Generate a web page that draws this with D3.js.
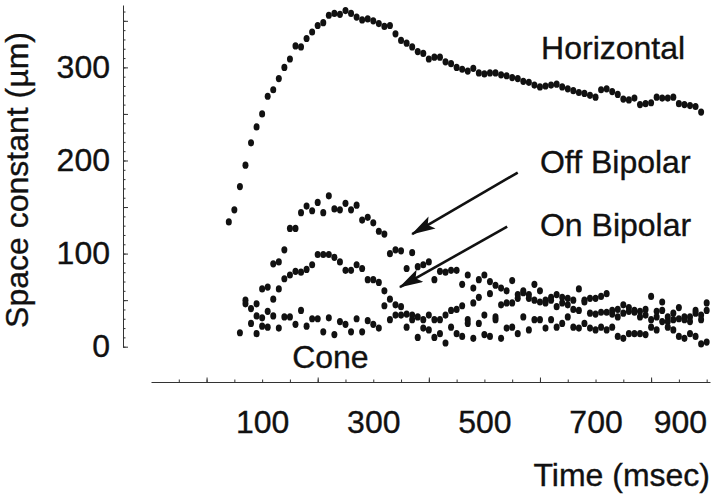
<!DOCTYPE html>
<html>
<head>
<meta charset="utf-8">
<style>
    body { margin: 0; background: #fff; }
    text {
        font-family: 'Liberation Sans', Arial, Helvetica, sans-serif;
        fill: #111;
        stroke: #111;
        stroke-width: 0.35px;
    }
    .axis path, .axis line { stroke: #333; stroke-width: 1; }
    .dot { fill: #111; }
    .arrow { stroke: #111; stroke-width: 2.6; }
</style>
</head>
<body>
<svg id="chart" width="720" height="499"></svg>

<script src="https://cdn.jsdelivr.net/npm/d3@7"></script>
<script>
    // one reading every 10 ms, each series starts at its own time
    const step = 10;

    const horizontalStart = 40;
    const horizontal = [134, 147, 172, 195, 219, 236, 250, 269, 276, 288,
        300, 309, 323, 322, 331, 338, 345, 348, 356, 358,
        357, 361, 358, 354, 351, 352, 350, 347, 344, 345,
        336, 329, 326, 322, 317, 315, 309, 311, 311, 306,
        304, 300, 298, 296, 299, 294, 293, 294, 294, 292,
        291, 289, 288, 285, 284, 281, 279, 280, 281, 282,
        279, 277, 275, 273, 272, 270, 268, 276, 277, 274,
        271, 266, 265, 267, 260, 261, 262, 268, 267, 267,
        268, 261, 260, 259, 258, 252];

    const offStart = 70;
    const offBipolar = [50, 41, 46, 62, 64, 89, 91, 104, 127, 127,
        144, 151, 146, 155, 144, 162, 148, 147, 154, 147,
        152, 136, 139, 133, 124, 121, 100,
        104, 103, 84, 101, 86, 88, 91, 72, 81, 80,
        82, 82, 67, 77, 63, 72, 77, 70, 66, 63,
        60, 71, 56, 60, 56, 67, 60, 50, 53,
        56, 53, 52, 50, 62, 50, 52, 52, 54, 57,
        39, 40, 45, 42, 39, 38, 40, 54, 38, 48,
        32, 36, 42, 32, 32, 39, 34, 47];

    const onStart = 90;
    const onBipolar = [33, 31, 38, 51, 62, 73, 77, 81, 80, 83,
        88, 99, 99, 99, 96, 91, 82, 82, 88, 84,
        72, 72, 69, 60, 51,
        45, 43, 35, 34, 32, 29, 34, 29, 29, 34,
        39, 40, 44, 29, 47, 53, 34, 57, 32, 45,
        47, 47, 52, 58, 52, 50, 48, 47, 50,
        43, 47, 45, 40, 39, 48, 36, 35, 37, 37,
        35, 32, 36, 38, 37, 32, 34, 29, 32, 39,
        27, 29, 30, 29, 27, 36, 29, 39];

    const coneStart = 60;
    const cone = [15, 46, 25, 14, 22, 21, 33, 20, 32, 32,
        24, 39, 22, 30, 30, 16, 31, 13, 27, 24,
        16, 30, 16, 28, 24, 20, 44, 29,
        34, 34, 21, 29, 10, 20, 18, 10, 14, 4,
        21, 14, 11, 25, 9, 25, 13, 11, 29, 9,
        20, 21, 14, 32, 18, 29, 29, 20, 29,
        21, 25, 32, 21, 20, 25, 20, 18, 21, 18,
        21, 11, 9, 14, 14, 14, 13, 21, 18, 27,
        21, 18, 11, 9, 14, 11, 3, 5];

    const xLabels = [100, 300, 500, 700, 900];
    const yLabels = [0, 100, 200, 300];

    // text labels and arrows, placed in data units (time, space constant)
    const seriesLabels = [
        { text: "Horizontal", t: 602, v: 309 },
        { text: "Off Bipolar", t: 600, v: 187 },
        { text: "On Bipolar", t: 600, v: 119 },
        { text: "Cone", t: 154, v: -23 }
    ];
    const arrows = [
        { t1: 560, v1: 187, t2: 370, v2: 121 },
        { t1: 541, v1: 129, t2: 348, v2: 64 }
    ];

    const svg = d3.select("#chart");

    let xScale = d3.scaleLinear()
        .domain([-100, 906])
        .range([151, 710]);

    let yScale = d3.scaleLinear()
        .domain([0, 367])
        .range([346.7, 5]);

    const toPoints = (values, start) => values.map((v, i) => ({ t: start + i * step, v: v }));

    // y axis: minor ticks every 10, larger every 50, pointing inward
    svg.append("g")
        .attr("class", "axis")
        .attr("transform", "translate(123,0)")
        .call(d3.axisRight(yScale).tickValues(d3.range(0, 367, 10))
            .tickSize(2.5).tickSizeOuter(0).tickFormat(""));
    svg.append("g")
        .attr("class", "axis")
        .attr("transform", "translate(123,0)")
        .call(d3.axisRight(yScale).tickValues(d3.range(0, 367, 50))
            .tickSize(5).tickSizeOuter(0).tickFormat(""))
        .select(".domain").remove();
    let yLab = svg.append("g")
        .attr("transform", "translate(123,0)")
        .call(d3.axisLeft(yScale).tickValues(yLabels).tickSize(0).tickPadding(13));
    yLab.select(".domain").remove();
    yLab.selectAll("text").style("font-size", "32px").attr("font-family", null);

    // x axis at the bottom, ticks pointing up
    svg.append("g")
        .attr("class", "axis")
        .attr("transform", "translate(0,382)")
        .call(d3.axisTop(xScale).tickValues(d3.range(-50, 906, 50))
            .tickSize(2.5).tickSizeOuter(0).tickFormat(""));
    svg.append("g")
        .attr("class", "axis")
        .attr("transform", "translate(0,382)")
        .call(d3.axisTop(xScale).tickValues(d3.range(0, 906, 200))
            .tickSize(4.5).tickSizeOuter(0).tickFormat(""))
        .select(".domain").remove();
    let xLab = svg.append("g")
        .attr("transform", "translate(0,382)")
        .call(d3.axisBottom(xScale).tickValues(xLabels).tickSize(0).tickPadding(28));
    xLab.select(".domain").remove();
    xLab.selectAll("text").style("font-size", "32px").attr("font-family", null);
    // last label would run off the page, right-align it
    xLab.selectAll("text").filter(d => d === 900)
        .attr("text-anchor", "end").attr("x", 0);

    // axis titles
    svg.append("text")
        .attr("transform", "translate(28,180) rotate(-90)")
        .attr("text-anchor", "middle")
        .style("font-size", "32px")
        .text("Space constant (\u00b5m)");
    svg.append("text")
        .attr("x", 710).attr("y", 486)
        .attr("text-anchor", "end")
        .style("font-size", "32px")
        .text("Time (msec)");

    // dots
    const allSeries = [
        toPoints(horizontal, horizontalStart),
        toPoints(offBipolar, offStart),
        toPoints(onBipolar, onStart),
        toPoints(cone, coneStart)
    ];
    allSeries.forEach(points => {
        svg.append("g").selectAll("ellipse")
            .data(points)
            .join("ellipse")
            .attr("class", "dot")
            .attr("cx", d => xScale(d.t))
            .attr("cy", d => yScale(d.v))
            .attr("rx", 3)
            .attr("ry", 3.6);
    });

    // arrows
    svg.append("defs").append("marker")
        .attr("id", "head")
        .attr("markerUnits", "userSpaceOnUse")
        .attr("viewBox", "0 0 24 14")
        .attr("refX", 23).attr("refY", 7)
        .attr("markerWidth", 24).attr("markerHeight", 14)
        .attr("orient", "auto")
        .append("path")
        .attr("d", "M0,0 L24,7 L0,14 L5,7 Z")
        .attr("fill", "#111");

    svg.append("g").selectAll("line")
        .data(arrows)
        .join("line")
        .attr("class", "arrow")
        .attr("x1", d => xScale(d.t1)).attr("y1", d => yScale(d.v1))
        .attr("x2", d => xScale(d.t2)).attr("y2", d => yScale(d.v2))
        .attr("marker-end", "url(#head)");

    svg.append("g").selectAll("text")
        .data(seriesLabels)
        .join("text")
        .attr("x", d => xScale(d.t))
        .attr("y", d => yScale(d.v))
        .style("font-size", "32px")
        .text(d => d.text);
</script>
</body>
</html>
